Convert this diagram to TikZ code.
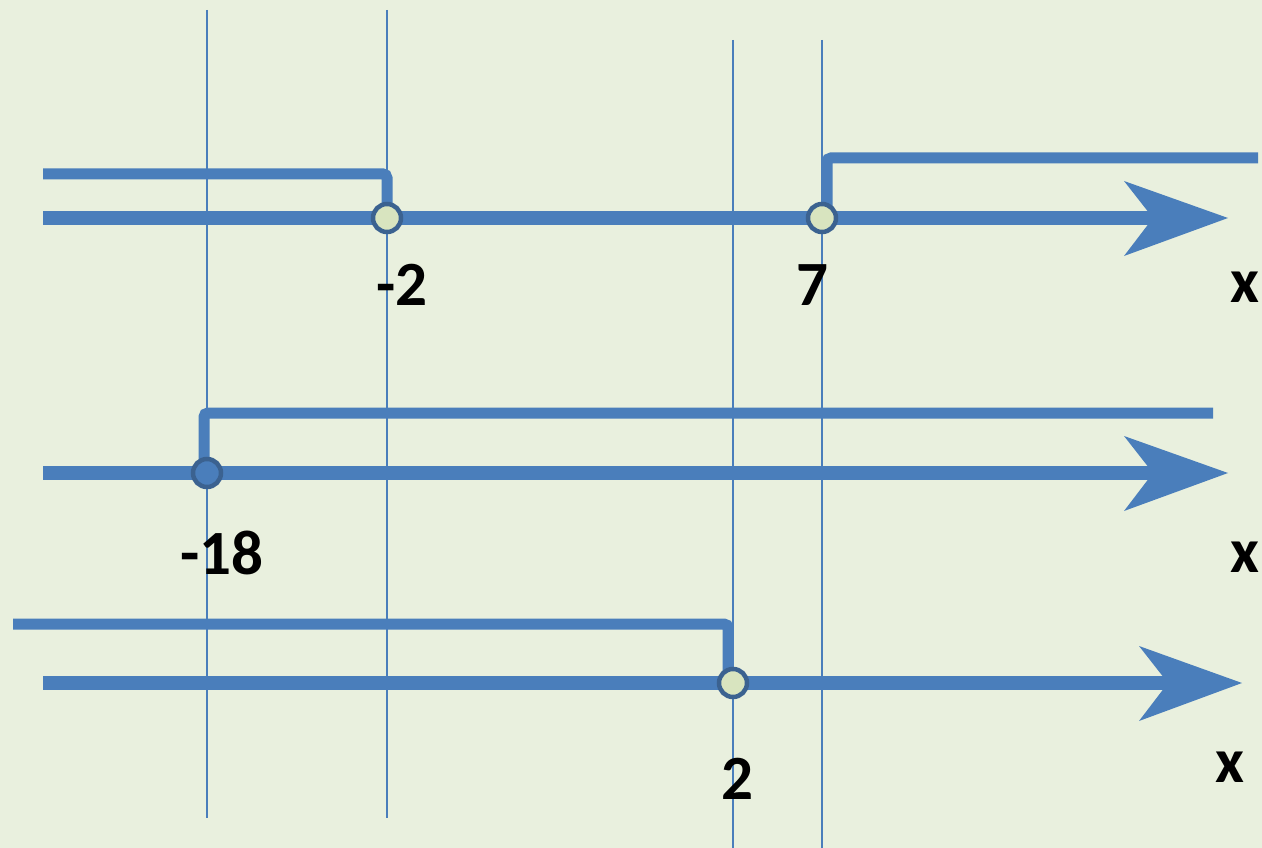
\documentclass[tikz,border=0pt]{standalone}
\usepackage{fontspec}
\setmainfont{Carlito}
\definecolor{bg}{HTML}{E9F0DE}
\definecolor{axblue}{HTML}{4A7EBB}
\definecolor{ringblue}{HTML}{3B6290}
\definecolor{holefill}{HTML}{D8E4BF}
\tikzset{
  axisline/.style={axblue, line width=14.5pt},
  bracketline/.style={axblue, line width=11pt, rounded corners=4pt},
  guide/.style={axblue, line width=2pt},
  arrowhd/.style={fill=axblue, draw=none},
  hole/.style={circle, draw=ringblue, line width=4.5pt, fill=holefill, minimum size=28pt, inner sep=0pt},
  dot/.style={circle, draw=ringblue, line width=4.5pt, fill=axblue, minimum size=28pt, inner sep=0pt},
  lbl/.style={font=\fontsize{63}{63}\selectfont\bfseries, text=black, inner sep=0pt}
}
\begin{document}
\begin{tikzpicture}[x=1pt,y=-1pt]
\fill[bg] (0,0) rectangle (1262,848);
\useasboundingbox (0,0) rectangle (1262,848);
% guide lines
\coordinate (g1t) at (207,10); \coordinate (g1b) at (207,818);
\coordinate (g2t) at (387,10); \coordinate (g2b) at (387,818);
\coordinate (g3t) at (733,40); \coordinate (g3b) at (733,848);
\coordinate (g4t) at (822,40); \coordinate (g4b) at (822,848);
\draw[guide] (g1t) -- (g1b);
\draw[guide] (g2t) -- (g2b);
\draw[guide] (g3t) -- (g3b);
\draw[guide] (g4t) -- (g4b);
% ---- line 1
\coordinate (a1s) at (43,218); \coordinate (a1n) at (1160,218);
\draw[axisline] (a1s) -- (a1n);
\fill[arrowhd] (1228,218) -- (1124,181) -- (1153,218) -- (1124,256) -- cycle;
\coordinate (b1s) at (43,174); \coordinate (b1e) at (1258,158);
\draw[bracketline] (b1s) -- (387,174) -- (387,210);
\draw[bracketline] (827,210) -- (827,158) -- (b1e);
\node[hole] (p1) at (387,218) {};
\node[hole] (p2) at (822,218) {};
\node[lbl] (l1) at (402,285) {-2};
\node[lbl] (l2) at (812,285) {7};
\node[lbl] (x1) at (1245,287) {x};
% ---- line 2
\coordinate (a2s) at (43,473); \coordinate (a2n) at (1160,473);
\draw[axisline] (a2s) -- (a2n);
\fill[arrowhd] (1228,473) -- (1124,436) -- (1153,473) -- (1124,511) -- cycle;
\coordinate (b2e) at (1213,413);
\draw[bracketline] (204,465) -- (204,413) -- (b2e);
\node[dot] (p3) at (207,473) {};
\node[lbl] (l3) at (222,553) {-18};
\node[lbl] (x2) at (1245,557) {x};
% ---- line 3
\coordinate (a3s) at (43,683); \coordinate (a3n) at (1175,683);
\draw[axisline] (a3s) -- (a3n);
\fill[arrowhd] (1242,683) -- (1139,646) -- (1168,683) -- (1139,721) -- cycle;
\coordinate (b3s) at (13,624);
\draw[bracketline] (b3s) -- (728,624) -- (728,675);
\node[hole] (p4) at (733,683) {};
\node[lbl] (l4) at (737,779) {2};
\node[lbl] (x3) at (1230,767) {x};
\end{tikzpicture}
\end{document}
